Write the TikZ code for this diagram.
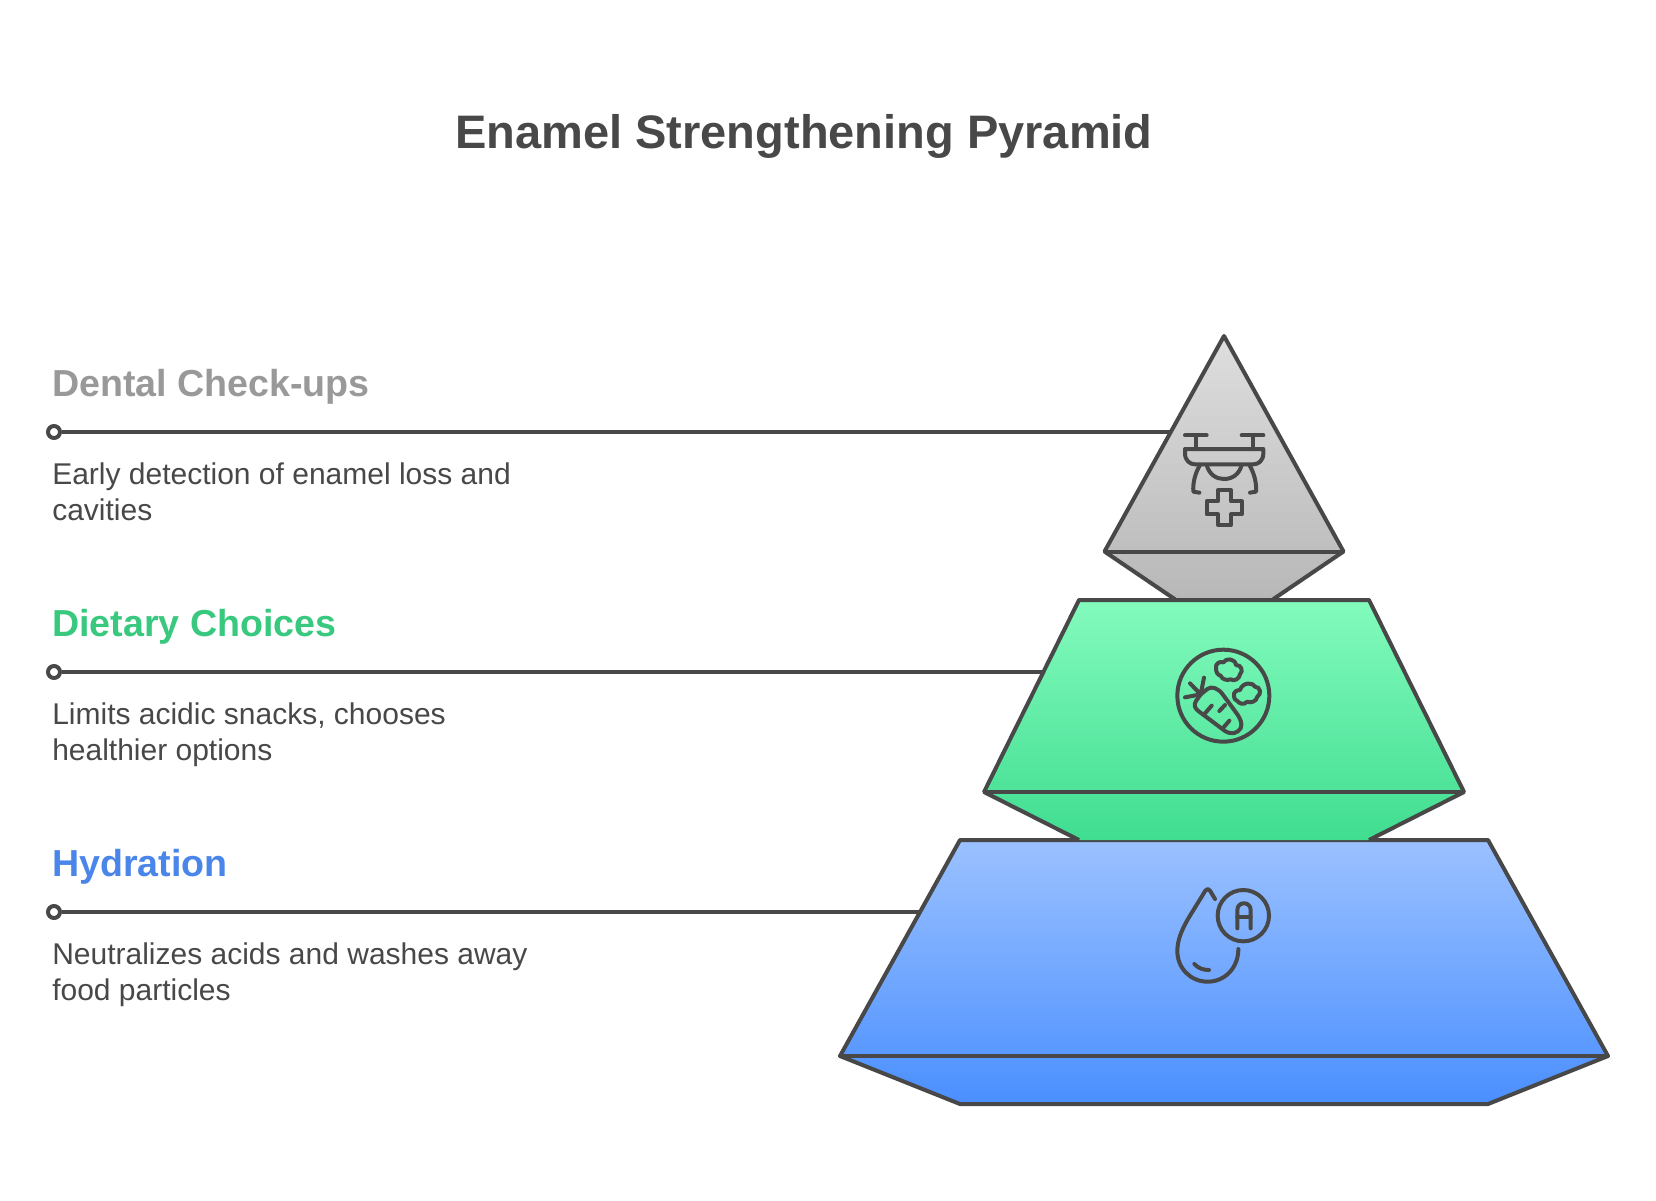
\documentclass[tikz,border=0pt]{standalone}
\usepackage{fontspec}
\setmainfont{Liberation Sans}
\definecolor{ink}{HTML}{484848}
\definecolor{graytxt}{HTML}{999999}
\definecolor{greentxt}{HTML}{38C97F}
\definecolor{bluetxt}{HTML}{4A86EA}
\tikzset{
  titletext/.style={anchor=base,inner sep=0pt,text=ink,font=\fontsize{35.25}{40}\selectfont\bfseries},
  headtext/.style={anchor=base west,inner sep=0pt,font=\fontsize{28.2}{32}\selectfont\bfseries},
  bodytext/.style={anchor=base west,inner sep=0pt,text=ink,font=\fontsize{22.5}{27}\selectfont},
  enddot/.style={circle,draw=ink,fill=white,line width=3pt,inner sep=0pt,minimum size=9pt},
  leader/.style={draw=ink,line width=3pt},
  outline/.style={draw=ink,line width=3pt,line join=round},
  icon/.style={draw=ink,line width=3pt,line cap=round,line join=round},
}
\begin{document}
\begin{tikzpicture}[x=.75pt,y=-.75pt]
\useasboundingbox (0,0) rectangle (1656,1200);
\fill[white] (0,0) rectangle (1656,1200);

\node[titletext] (title) at (804,148) {Enamel Strengthening Pyramid};

% tier corner points
\coordinate (t1e) at (1171,432);
\coordinate (t2e) at (1043.4,672);
\coordinate (t3e) at (920,912);

% leaders
\node[enddot] (d1) at (54,432) {};
\node[enddot] (d2) at (54,672) {};
\node[enddot] (d3) at (54,912) {};
\draw[leader] (d1) -- (t1e);
\draw[leader] (d2) -- (t2e);
\draw[leader] (d3) -- (t3e);

% labels
\node[headtext,text=graytxt] (h1) at (52,396) {Dental Check-ups};
\node[bodytext] (b1a) at (52,484) {Early detection of enamel loss and};
\node[bodytext] (b1b) at (52,520) {cavities};
\node[headtext,text=greentxt] (h2) at (52,636) {Dietary Choices};
\node[bodytext] (b2a) at (52,724) {Limits acidic snacks, chooses};
\node[bodytext] (b2b) at (52,760) {healthier options};
\node[headtext,text=bluetxt] (h3) at (52,876) {Hydration};
\node[bodytext] (b3a) at (52,964) {Neutralizes acids and washes away};
\node[bodytext] (b3b) at (52,1000) {food particles};

% top tier
\path[top color=black!13,bottom color=black!28]
  (1224,336) -- (1343.5,551.5) -- (1272,600) -- (1176,600) -- (1104.5,551.5) -- cycle;
\draw[outline] (1176,600) -- (1104.5,551.5) -- (1224,336) -- (1343.5,551.5) -- (1272,600);
\draw[outline] (1104.5,551.5) -- (1343.5,551.5);

% blue tier
\path[top color={rgb,255:red,155;green,193;blue,255},bottom color={rgb,255:red,74;green,143;blue,255}]
  (960,840) -- (1488,840) -- (1608,1056) -- (1488,1104) -- (960,1104) -- (840,1056) -- cycle;
\draw[outline] (960,840) -- (1488,840) -- (1608,1056) -- (1488,1104) -- (960,1104) -- (840,1056) -- cycle;
\draw[outline] (840,1056) -- (1608,1056);

% green tier
\path[top color={rgb,255:red,131;green,251;blue,189},bottom color={rgb,255:red,64;green,221;blue,144}]
  (1079,600) -- (1369,600) -- (1464,792) -- (1369,840) -- (1079,840) -- (984,792) -- cycle;
\draw[outline] (1369,840) -- (1464,792) -- (1369,600) -- (1079,600) -- (984,792) -- (1079,840);
\draw[outline] (984,792) -- (1464,792);

% drone icon
\begin{scope}[shift={(1150,410)},x=.25pt,y=-.25pt]
  \draw[icon] (105,76) -- (170,76) (137,76) -- (137,117);
  \draw[icon] (275,76) -- (340,76) (308,76) -- (308,117);
  \draw[icon] (105,117) -- (340,117) -- (340,130) .. controls (340,152) and (325,163) .. (310,163)
     -- (135,163) .. controls (120,163) and (105,152) .. (105,130) -- cycle;
  \draw[icon] (150,165) .. controls (135,190) and (128,220) .. (130,245) -- (148,248);
  \draw[icon] (298,165) .. controls (313,190) and (320,220) .. (318,245) -- (300,248);
  \draw[icon] (170,165) .. controls (178,195) and (200,207) .. (222,207) .. controls (245,207) and (267,195) .. (275,165);
  \draw[icon] (204,240) -- (243,240) -- (243,274) -- (275,274) -- (275,313) -- (243,313) -- (243,345)
     -- (204,345) -- (204,313) -- (170,313) -- (170,274) -- (204,274) -- cycle;
\end{scope}

% carrot icon
\begin{scope}[shift={(1160,635)},x=.25pt,y=-.25pt]
  \draw[icon] (190,182) circle[radius=138];
  \draw[icon] (90,145) -- (122,178) (132,128) -- (122,178) (75,187) -- (122,178);
  \draw[icon] (122,178) -- (108,198) .. controls (100,210) and (105,220) .. (115,228) -- (195,288)
     .. controls (215,300) and (232,295) .. (242,280) .. controls (248,265) and (240,250) .. (232,238)
     -- (188,178) .. controls (175,160) and (155,152) .. (142,162) -- cycle;
  \draw[icon] (135,235) -- (155,212) (178,228) -- (195,210) (190,278) -- (208,257);
  \draw[icon] (168,100) .. controls (165,85) and (180,78) .. (190,82) .. controls (198,68) and (225,70) .. (228,90)
     .. controls (245,90) and (250,108) .. (240,118) .. controls (238,132) and (222,140) .. (212,133)
     .. controls (200,138) and (185,132) .. (182,122) .. controls (172,120) and (168,110) .. (168,100) -- cycle;
  \draw[icon] (222,185) .. controls (218,170) and (232,165) .. (240,165) .. controls (248,140) and (280,142) .. (285,155)
     .. controls (302,155) and (305,178) .. (292,185) .. controls (290,200) and (270,205) .. (262,200)
     .. controls (250,212) and (238,205) .. (232,198) .. controls (226,196) and (222,190) .. (222,185) -- cycle;
\end{scope}

% drop icon
\begin{scope}[shift={(1160,875)},x=.25pt,y=-.25pt]
  \draw[icon] (165,72) -- (150,47) .. controls (146,40) and (140,40) .. (136,47)
     -- (85,130) .. controls (65,165) and (52,195) .. (52,228)
     .. controls (52,280) and (92,320) .. (143,320)
     .. controls (195,320) and (235,278) .. (235,222);
  \draw[icon] (103,267) .. controls (115,280) and (130,285) .. (147,285);
  \draw[icon] (250,122) circle[radius=77];
  \draw[icon] (232,160) -- (232,105) .. controls (232,78) and (272,78) .. (272,105) -- (272,160);
  \draw[icon] (232,125) -- (272,125);
\end{scope}
\end{tikzpicture}
\end{document}
